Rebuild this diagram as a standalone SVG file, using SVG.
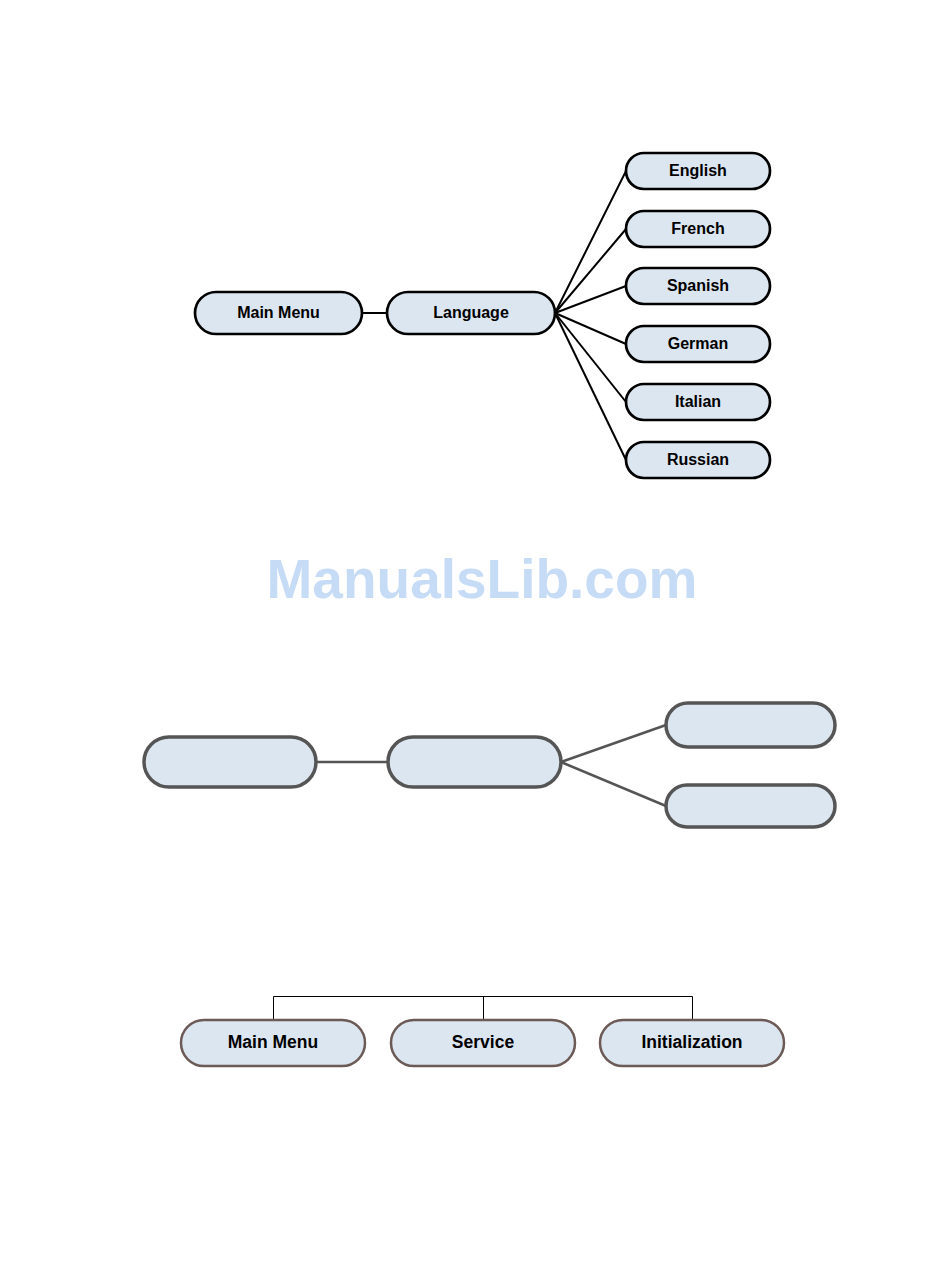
<svg xmlns="http://www.w3.org/2000/svg" width="950" height="1267" viewBox="0 0 950 1267">
<style>
.n1 rect{fill:#dce6f0;stroke:#000;stroke-width:2.7}
.n2 rect{fill:#dce6f0;stroke:#555;stroke-width:3.5}
.n3 rect{fill:#dce6f0;stroke:#6b5a55;stroke-width:2.5}
.t1{font-family:"Liberation Sans",Arial,sans-serif;font-weight:bold;font-size:16px;fill:#000;text-anchor:middle}
.t3{font-family:"Liberation Sans",Arial,sans-serif;font-weight:bold;font-size:17.5px;fill:#000;text-anchor:middle}
.c1 line{stroke:#000;stroke-width:2}
.c2 line{stroke:#555;stroke-width:2.5}
.c3 line,.c3 path{stroke:#000;stroke-width:1;fill:none}
</style>
<rect width="950" height="1267" fill="#fff"/>
<g id="connectors">
<g class="c1">
<line x1="362" y1="313" x2="387" y2="313"/>
<line x1="555" y1="313" x2="626" y2="171"/>
<line x1="555" y1="313" x2="626" y2="229"/>
<line x1="555" y1="313" x2="626" y2="286"/>
<line x1="555" y1="313" x2="626" y2="344"/>
<line x1="555" y1="313" x2="626" y2="402"/>
<line x1="555" y1="313" x2="626" y2="460"/>
</g>
<g class="c2">
<line x1="316" y1="762" x2="388" y2="762"/>
<line x1="561" y1="762" x2="666" y2="725"/>
<line x1="561" y1="762" x2="666" y2="806"/>
</g>
<g class="c3">
<path d="M273.5 1020 V996.5 H692.5 V1020"/>
<line x1="483.5" y1="996.5" x2="483.5" y2="1020"/>
</g>
</g>
<g id="top-main-menu" class="n1"><rect x="195" y="292" width="167" height="42" rx="21"/><text class="t1" x="278.5" y="318">Main Menu</text></g>
<g id="top-language" class="n1"><rect x="387" y="292" width="168" height="42" rx="21"/><text class="t1" x="471" y="318">Language</text></g>
<g id="english" class="n1"><rect x="626" y="153" width="144" height="36" rx="18"/><text class="t1" x="698" y="176">English</text></g>
<g id="french" class="n1"><rect x="626" y="211" width="144" height="36" rx="18"/><text class="t1" x="698" y="234">French</text></g>
<g id="spanish" class="n1"><rect x="626" y="268" width="144" height="36" rx="18"/><text class="t1" x="698" y="291">Spanish</text></g>
<g id="german" class="n1"><rect x="626" y="326" width="144" height="36" rx="18"/><text class="t1" x="698" y="349">German</text></g>
<g id="italian" class="n1"><rect x="626" y="384" width="144" height="36" rx="18"/><text class="t1" x="698" y="407">Italian</text></g>
<g id="russian" class="n1"><rect x="626" y="442" width="144" height="36" rx="18"/><text class="t1" x="698" y="465">Russian</text></g>
<text x="482" y="598" font-family="'Liberation Sans',Arial,sans-serif" font-weight="bold" font-size="55" fill="#c6dbf6" text-anchor="middle">ManualsLib.com</text>
<g id="mid-left" class="n2"><rect x="144" y="737" width="172" height="50" rx="25"/></g>
<g id="mid-center" class="n2"><rect x="388" y="737" width="173" height="50" rx="25"/></g>
<g id="mid-top-right" class="n2"><rect x="666" y="703" width="169" height="44" rx="22"/></g>
<g id="mid-bottom-right" class="n2"><rect x="666" y="785" width="169" height="42" rx="21"/></g>
<g id="bottom-main-menu" class="n3"><rect x="181" y="1020" width="184" height="46" rx="23"/><text class="t3" x="273" y="1048">Main Menu</text></g>
<g id="bottom-service" class="n3"><rect x="391" y="1020" width="184" height="46" rx="23"/><text class="t3" x="483" y="1048">Service</text></g>
<g id="bottom-initialization" class="n3"><rect x="600" y="1020" width="184" height="46" rx="23"/><text class="t3" x="692" y="1048">Initialization</text></g>
</svg>
